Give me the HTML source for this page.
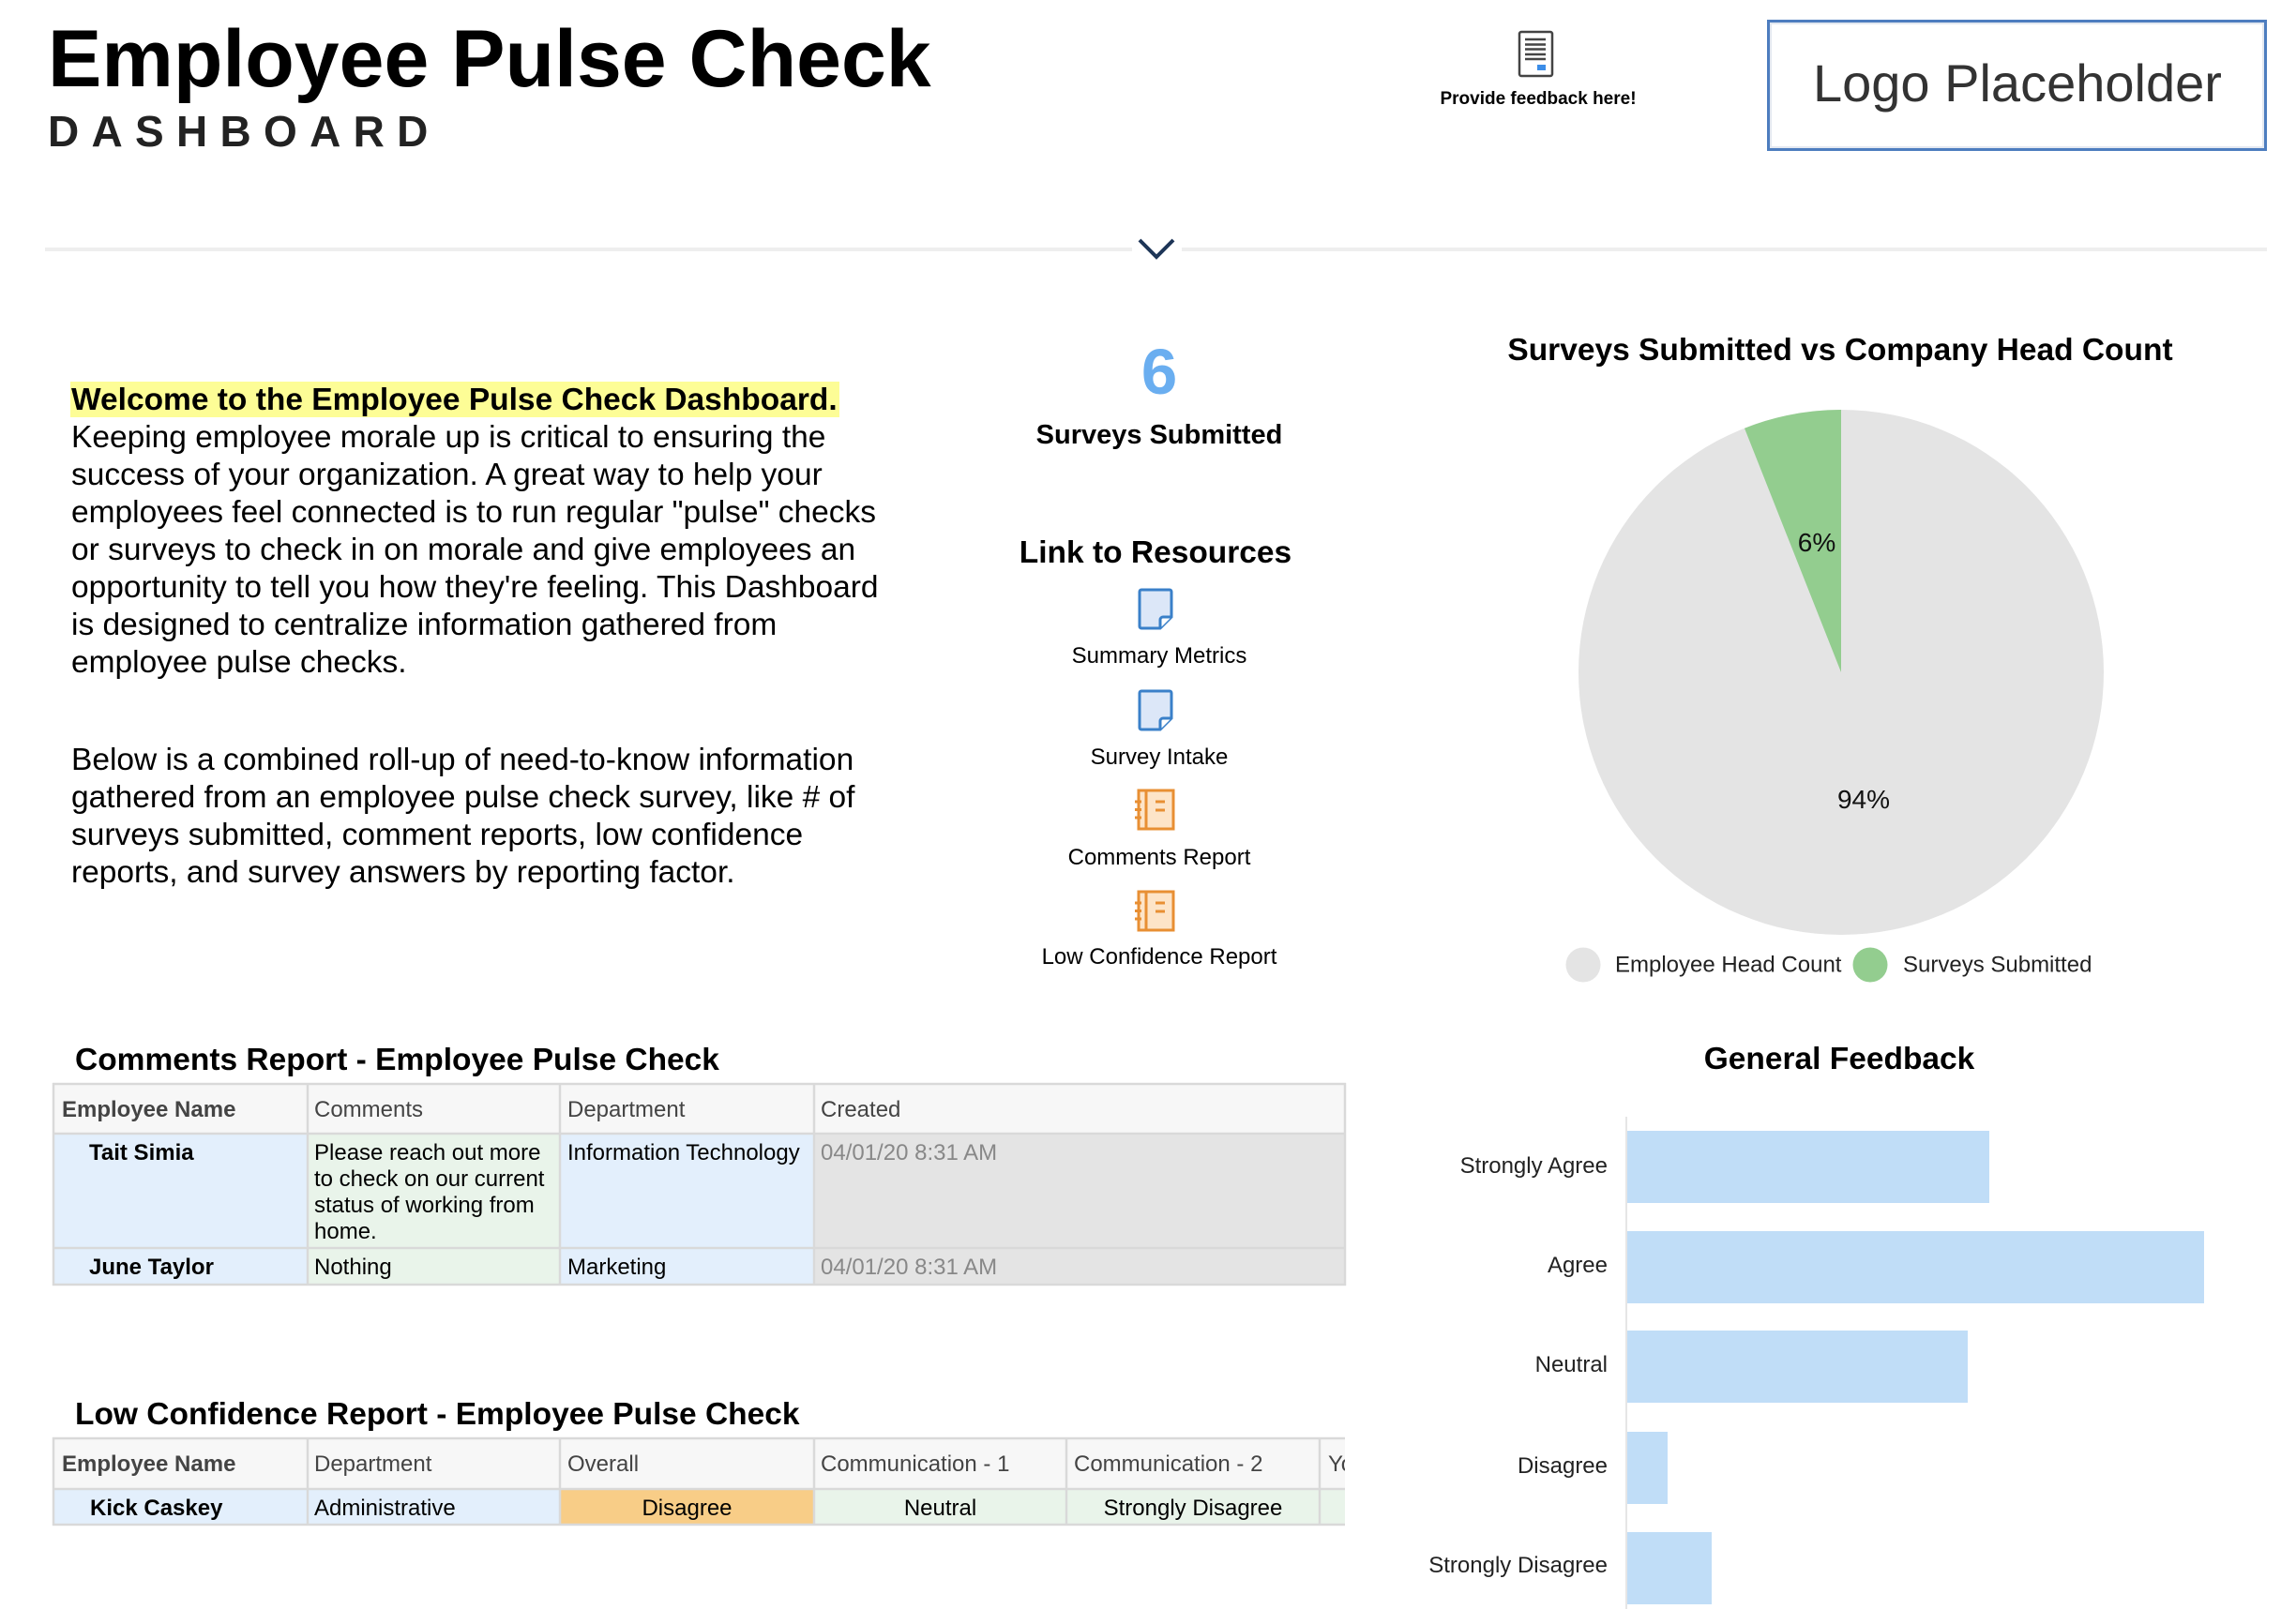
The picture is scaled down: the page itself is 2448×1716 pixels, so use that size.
<!DOCTYPE html>
<html>
<head>
<meta charset="utf-8">
<style>
html,body{margin:0;padding:0;background:#fff;}
body{width:2448px;height:1716px;overflow:hidden;position:relative;font-family:"Liberation Sans",Arial,sans-serif;color:#000;}
.t{position:absolute;white-space:nowrap;margin-top:1px;}
.c{position:absolute;white-space:nowrap;text-align:center;width:1000px;margin-top:1px;}
.p{position:absolute;left:76px;white-space:nowrap;font-size:33.5px;line-height:40px;margin-top:1px;}
.td{position:absolute;white-space:nowrap;font-size:24px;line-height:28px;margin-top:1px;}
.h{color:#444;}
.b{font-weight:bold;}
svg{position:absolute;left:0;top:0;}
</style>
</head>
<body>
<svg width="2448" height="1716" viewBox="0 0 2448 1716" xmlns="http://www.w3.org/2000/svg">
  <!-- header rule and chevron -->
  <rect x="48" y="264" width="1159" height="4" fill="#eeeeee"/>
  <rect x="1260" y="264" width="1157" height="4" fill="#eeeeee"/>
  <polyline points="1215,256 1233,274 1251,256" fill="none" stroke="#1d3557" stroke-width="4"/>
  <!-- feedback icon -->
  <rect x="1620" y="34" width="35" height="47" rx="2" fill="#fff" stroke="#444" stroke-width="2.5"/>
  <g stroke="#444" stroke-width="2.5">
    <line x1="1626" y1="42" x2="1648" y2="42"/>
    <line x1="1626" y1="47.5" x2="1648" y2="47.5"/>
    <line x1="1626" y1="52.5" x2="1648" y2="52.5"/>
    <line x1="1626" y1="58" x2="1648" y2="58"/>
    <line x1="1626" y1="63" x2="1648" y2="63"/>
  </g>
  <rect x="1639" y="69" width="9" height="6" fill="#3b8de8"/>
  <!-- logo box -->
  <rect x="1885.5" y="22.5" width="530" height="137" fill="#fff" stroke="#4d7dbf" stroke-width="3"/>
  <rect x="1888" y="25" width="525" height="132" fill="none" stroke="#e3e8f0" stroke-width="2"/>

  <!-- resource icons: blue docs -->
  <g>
    <path d="M1217,629 h30 a2,2 0 0 1 2,2 v27 l-12,12 h-20 a2,2 0 0 1 -2,-2 v-37 a2,2 0 0 1 2,-2 z" fill="#dce7f8" stroke="#3a80c9" stroke-width="3"/>
    <path d="M1249,658 h-9 a3,3 0 0 0 -3,3 v9" fill="#fff" stroke="#3a80c9" stroke-width="3"/>
  </g>
  <g>
    <path d="M1217,737 h30 a2,2 0 0 1 2,2 v27 l-12,12 h-20 a2,2 0 0 1 -2,-2 v-37 a2,2 0 0 1 2,-2 z" fill="#dce7f8" stroke="#3a80c9" stroke-width="3"/>
    <path d="M1249,766 h-9 a3,3 0 0 0 -3,3 v9" fill="#fff" stroke="#3a80c9" stroke-width="3"/>
  </g>
  <!-- orange notebooks -->
  <g stroke="#e88f33" stroke-width="3">
    <rect x="1214" y="843" width="37" height="41" fill="#fde4c8"/>
    <line x1="1222" y1="843" x2="1222" y2="884"/>
    <line x1="1210" y1="855" x2="1217" y2="855"/>
    <line x1="1210" y1="863.5" x2="1217" y2="863.5"/>
    <line x1="1210" y1="872" x2="1217" y2="872"/>
    <line x1="1232" y1="855" x2="1242" y2="855"/>
    <line x1="1232" y1="864" x2="1242" y2="864"/>
  </g>
  <g stroke="#e88f33" stroke-width="3">
    <rect x="1214" y="951" width="37" height="41" fill="#fde4c8"/>
    <line x1="1222" y1="951" x2="1222" y2="992"/>
    <line x1="1210" y1="963" x2="1217" y2="963"/>
    <line x1="1210" y1="971.5" x2="1217" y2="971.5"/>
    <line x1="1210" y1="980" x2="1217" y2="980"/>
    <line x1="1232" y1="963" x2="1242" y2="963"/>
    <line x1="1232" y1="972" x2="1242" y2="972"/>
  </g>

  <!-- pie -->
  <circle cx="1963" cy="717" r="280" fill="#e4e4e4"/>
  <path d="M1963,717 L1963,437 A280,280 0 0 0 1860,456.7 Z" fill="#93cd8f"/>
  <text x="1937" y="588" font-family="Liberation Sans, Arial, sans-serif" font-size="28" text-anchor="middle" fill="#111">6%</text>
  <text x="1987" y="862" font-family="Liberation Sans, Arial, sans-serif" font-size="28" text-anchor="middle" fill="#111">94%</text>
  <circle cx="1688" cy="1029" r="18.5" fill="#e4e4e4"/>
  <circle cx="1994" cy="1029" r="18.5" fill="#93cd8f"/>
  <text x="1722" y="1036.5" font-family="Liberation Sans, Arial, sans-serif" font-size="24" fill="#222">Employee Head Count</text>
  <text x="2029" y="1036.5" font-family="Liberation Sans, Arial, sans-serif" font-size="24" fill="#222">Surveys Submitted</text>

  <!-- bar chart -->
  <line x1="1734" y1="1191" x2="1734" y2="1716" stroke="#e6e6e6" stroke-width="2"/>
  <g fill="#c0ddf7">
    <rect x="1735" y="1206" width="386" height="77"/>
    <rect x="1735" y="1313" width="615" height="77"/>
    <rect x="1735" y="1419" width="363" height="77"/>
    <rect x="1735" y="1527" width="43" height="77"/>
    <rect x="1735" y="1634" width="90" height="77"/>
  </g>
  <g font-family="Liberation Sans, Arial, sans-serif" font-size="24" fill="#222" text-anchor="end">
    <text x="1714" y="1251">Strongly Agree</text>
    <text x="1714" y="1357">Agree</text>
    <text x="1714" y="1463">Neutral</text>
    <text x="1714" y="1571">Disagree</text>
    <text x="1714" y="1677">Strongly Disagree</text>
  </g>

  <!-- comments table -->
  <rect x="57" y="1156" width="1377" height="53" fill="#f7f7f7"/>
  <rect x="57" y="1209" width="271" height="161" fill="#e3effc"/>
  <rect x="328" y="1209" width="269" height="161" fill="#e9f4ea"/>
  <rect x="597" y="1209" width="271" height="161" fill="#e3effc"/>
  <rect x="868" y="1209" width="566" height="161" fill="#e4e4e4"/>
  <g stroke="#d9d9d9" stroke-width="2.5">
    <line x1="56" y1="1156" x2="1435" y2="1156"/>
    <line x1="56" y1="1209" x2="1435" y2="1209"/>
    <line x1="56" y1="1331" x2="1435" y2="1331"/>
    <line x1="56" y1="1370" x2="1435" y2="1370"/>
    <line x1="57" y1="1155" x2="57" y2="1371"/>
    <line x1="328" y1="1155" x2="328" y2="1371"/>
    <line x1="597" y1="1155" x2="597" y2="1371"/>
    <line x1="868" y1="1155" x2="868" y2="1371"/>
    <line x1="1434" y1="1155" x2="1434" y2="1371"/>
  </g>

  <!-- low confidence table -->
  <rect x="57" y="1534" width="1377" height="54" fill="#f7f7f7"/>
  <rect x="57" y="1588" width="540" height="38" fill="#e3effc"/>
  <rect x="597" y="1588" width="271" height="38" fill="#f8cd87"/>
  <rect x="868" y="1588" width="566" height="38" fill="#e9f4ea"/>
  <g stroke="#d9d9d9" stroke-width="2.5">
    <line x1="56" y1="1534" x2="1434" y2="1534"/>
    <line x1="56" y1="1588" x2="1434" y2="1588"/>
    <line x1="56" y1="1626" x2="1434" y2="1626"/>
    <line x1="57" y1="1533" x2="57" y2="1627"/>
    <line x1="328" y1="1533" x2="328" y2="1627"/>
    <line x1="597" y1="1533" x2="597" y2="1627"/>
    <line x1="868" y1="1533" x2="868" y2="1627"/>
    <line x1="1137" y1="1533" x2="1137" y2="1627"/>
    <line x1="1407" y1="1533" x2="1407" y2="1627"/>
  </g>
</svg>

<!-- Header -->
<div class="t b" style="left:51px;top:19px;font-size:86px;line-height:86px;">Employee Pulse Check</div>
<div class="t b" style="left:51px;top:116px;font-size:46px;line-height:46px;letter-spacing:13.3px;color:#222;">DASHBOARD</div>
<div class="c b" style="left:1140px;top:95px;font-size:19px;line-height:20px;">Provide feedback here!</div>
<div class="t" style="left:1933px;top:60px;font-size:56px;line-height:56px;color:#333;">Logo Placeholder</div>

<!-- Intro paragraph -->
<div style="position:absolute;left:75px;top:407px;width:820px;height:38px;background:#fdfd96;"></div>
<div class="p b" style="top:406px;">Welcome to the Employee Pulse Check Dashboard.</div>
<div class="p" style="top:446px;">Keeping employee morale up is critical to ensuring the</div>
<div class="p" style="top:486px;">success of your organization. A great way to help your</div>
<div class="p" style="top:526px;">employees feel connected is to run regular "pulse" checks</div>
<div class="p" style="top:566px;">or surveys to check in on morale and give employees an</div>
<div class="p" style="top:606px;">opportunity to tell you how they're feeling. This Dashboard</div>
<div class="p" style="top:646px;">is designed to centralize information gathered from</div>
<div class="p" style="top:686px;">employee pulse checks.</div>
<div class="p" style="top:790px;">Below is a combined roll-up of need-to-know information</div>
<div class="p" style="top:830px;">gathered from an employee pulse check survey, like # of</div>
<div class="p" style="top:870px;">surveys submitted, comment reports, low confidence</div>
<div class="p" style="top:910px;">reports, and survey answers by reporting factor.</div>

<!-- Middle column -->
<div class="c b" style="left:736px;top:361px;font-size:69px;line-height:69px;color:#6aaef0;">6</div>
<div class="c b" style="left:736px;top:448px;font-size:29px;line-height:30px;">Surveys Submitted</div>
<div class="c b" style="left:732px;top:572px;font-size:33.5px;line-height:34px;">Link to Resources</div>
<div class="c" style="left:736px;top:685px;font-size:24px;line-height:28px;">Summary Metrics</div>
<div class="c" style="left:736px;top:793px;font-size:24px;line-height:28px;">Survey Intake</div>
<div class="c" style="left:736px;top:900px;font-size:24px;line-height:28px;">Comments Report</div>
<div class="c" style="left:736px;top:1006px;font-size:24px;line-height:28px;">Low Confidence Report</div>

<!-- Chart titles -->
<div class="c b" style="left:1462px;top:356px;font-size:33.5px;line-height:34px;">Surveys Submitted vs Company Head Count</div>
<div class="c b" style="left:1461px;top:1112px;font-size:33.5px;line-height:34px;">General Feedback</div>

<!-- Comments table -->
<div class="t b" style="left:80px;top:1113px;font-size:33.5px;line-height:34px;">Comments Report - Employee Pulse Check</div>
<div class="td b h" style="left:66px;top:1169px;">Employee Name</div>
<div class="td h" style="left:335px;top:1169px;">Comments</div>
<div class="td h" style="left:605px;top:1169px;">Department</div>
<div class="td h" style="left:875px;top:1169px;">Created</div>

<div class="td b" style="left:95px;top:1215px;">Tait Simia</div>
<div class="td" style="left:335px;top:1215px;">Please reach out more<br>to check on our current<br>status of working from<br>home.</div>
<div class="td" style="left:605px;top:1215px;">Information Technology</div>
<div class="td" style="left:875px;top:1215px;color:#888;">04/01/20 8:31 AM</div>

<div class="td b" style="left:95px;top:1337px;">June Taylor</div>
<div class="td" style="left:335px;top:1337px;">Nothing</div>
<div class="td" style="left:605px;top:1337px;">Marketing</div>
<div class="td" style="left:875px;top:1337px;color:#888;">04/01/20 8:31 AM</div>

<!-- Low confidence table -->
<div class="t b" style="left:80px;top:1491px;font-size:33.5px;line-height:34px;">Low Confidence Report - Employee Pulse Check</div>
<div class="td b h" style="left:66px;top:1547px;">Employee Name</div>
<div class="td h" style="left:335px;top:1547px;">Department</div>
<div class="td h" style="left:605px;top:1547px;">Overall</div>
<div class="td h" style="left:875px;top:1547px;">Communication - 1</div>
<div class="td h" style="left:1145px;top:1547px;">Communication - 2</div>
<div class="td h" style="left:1409px;top:1547px;width:25px;overflow:hidden;padding-left:7px;box-sizing:border-box;">Yo</div>

<div class="td b" style="left:96px;top:1594px;">Kick Caskey</div>
<div class="td" style="left:335px;top:1594px;">Administrative</div>
<div class="td" style="left:597px;top:1594px;width:271px;text-align:center;">Disagree</div>
<div class="td" style="left:868px;top:1594px;width:269px;text-align:center;">Neutral</div>
<div class="td" style="left:1137px;top:1594px;width:270px;text-align:center;">Strongly Disagree</div>
</body>
</html>
